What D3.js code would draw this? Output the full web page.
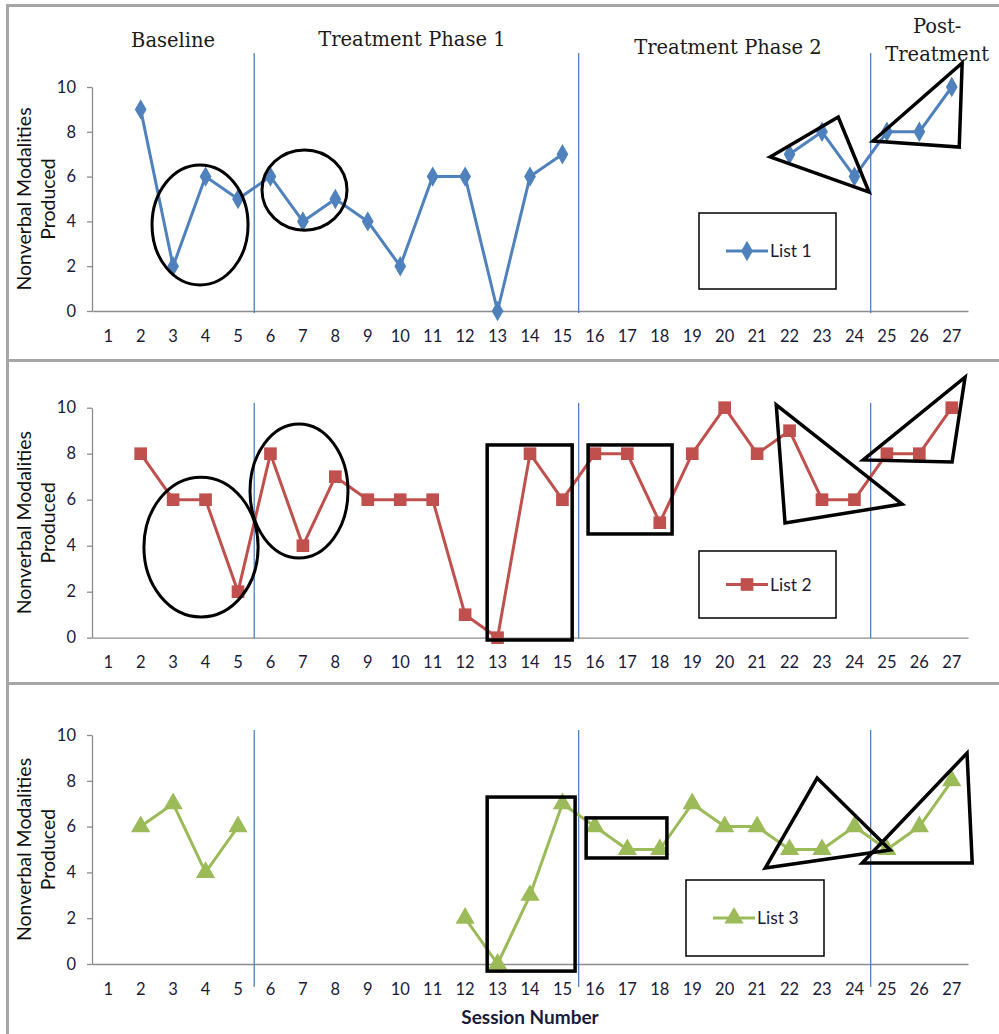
<!DOCTYPE html>
<html>
<head>
<meta charset="utf-8">
<script src="https://cdn.jsdelivr.net/npm/d3@7"></script>
<style>
  body { margin: 0; background: #fff; }
  svg { display: block; }
  .tick text { font-family: Lato, "Open Sans", sans-serif; font-size: 16.5px; fill: #1a1a3a; }
</style>
</head>
<body>
<svg id="chart" width="999" height="1034"></svg>
<script>
// ---- data ----
const sessions = [1, 2, 3, 4, 5, 6, 7, 8, 9, 10, 11, 12, 13, 14, 15, 16, 17, 18, 19, 20, 21, 22, 23, 24, 25, 26, 27];
const list1 = [null, 9, 2, 6, 5, 6, 4, 5, 4, 2, 6, 6, 0, 6, 7, null, null, null, null, null, null, 7, 8, 6, 8, 8, 10];
const list2 = [null, 8, 6, 6, 2, 8, 4, 7, 6, 6, 6, 1, 0, 8, 6, 8, 8, 5, 8, 10, 8, 9, 6, 6, 8, 8, 10];
const list3 = [null, 6, 7, 4, 6, null, null, null, null, null, null, 2, 0, 3, 7, 6, 5, 5, 7, 6, 6, 5, 5, 6, 5, 6, 8];
const seriesNames = ["List 1", "List 2", "List 3"];
const yTicks = [0, 2, 4, 6, 8, 10];
const phaseBreaks = [5, 15, 24];   // divider after these sessions
const phaseLabels = [
    { lines: ["Baseline"], s: 3.0, dy: [47] },
    { lines: ["Treatment Phase 1"], s: 10.36, dy: [46] },
    { lines: ["Treatment Phase 2"], s: 20.1, dy: [54] },
    { lines: ["Post-", "Treatment"], s: 26.55, dy: [33, 61] }
];

// hand-drawn annotation shapes, in session / value units
const ellipses = [
    [{ s: 3.83, v: 3.84, rs: 1.48, rv: 2.68 }, { s: 7.05, v: 5.4, rs: 1.31, rv: 1.79 }],
    [{ s: 3.86, v: 3.94, rs: 1.76, rv: 3.04 }, { s: 6.88, v: 6.38, rs: 1.51, rv: 2.91 }],
    []
];
const boxes = [
    [],
    [{ s0: 12.68, s1: 15.3, v0: -0.1, v1: 8.38 }, { s0: 15.79, s1: 18.38, v0: 4.51, v1: 8.38 }],
    [{ s0: 12.68, s1: 15.39, v0: -0.31, v1: 7.29 }, { s0: 15.73, s1: 18.22, v0: 4.63, v1: 6.38 }]
];
const triangles = [
    [[[21.4, 6.88], [23.5, 8.66], [24.45, 5.31]], [[24.57, 7.59], [27.32, 11.07], [27.23, 7.32]]],
    [[[21.59, 10.12], [25.47, 5.81], [21.86, 4.99]], [[24.27, 7.73], [27.41, 11.33], [27.01, 7.64]]],
    [[[21.25, 4.19], [22.85, 8.12], [25.1, 4.98]], [[24.24, 4.41], [27.47, 9.21], [27.63, 4.41]]]
];

// ---- layout ----
const colors = ["#4f81bd", "#c0504d", "#9bbb59"];
const symbols = [d3.symbolDiamond, d3.symbolSquare, d3.symbolTriangle];
const symbolSizes = [120, 160, 160];
const panels = [
    { data: list1, yBottom: 311, yTop: 87, divTop: 53, divBottom: 313, legend: [699, 213, 137, 76] },
    { data: list2, yBottom: 637.7, yTop: 407.7, divTop: 403, divBottom: 638, legend: [699, 551, 137, 67] },
    { data: list3, yBottom: 964, yTop: 735, divTop: 730, divBottom: 987, legend: [686, 880, 138, 76] }
];
const plotLeft = 92, plotRight = 968;

const svg = d3.select("#chart");

const x = d3.scaleBand().domain(sessions).range([plotLeft, plotRight]);
const xs = d3.scaleLinear().domain([0.5, 27.5]).range([plotLeft, plotRight]);

// frames
svg.append("line").attr("x1", 7.5).attr("x2", 7.5).attr("y1", 5).attr("y2", 1034)
    .attr("stroke", "#a6a6a6").attr("stroke-width", 3);
[5.5, 360.5, 683.5].forEach(yy => {
    svg.append("line").attr("x1", 6).attr("x2", 999).attr("y1", yy).attr("y2", yy)
        .attr("stroke", "#a6a6a6").attr("stroke-width", 3);
});

panels.forEach((p, i) => {
    const g = svg.append("g");
    const y = d3.scaleLinear().domain([0, 10]).range([p.yBottom, p.yTop]);

    // y axis
    const yAxis = g.append("g")
        .attr("transform", `translate(${plotLeft},0)`)
        .call(d3.axisLeft(y).tickValues(yTicks).tickSize(5).tickPadding(11).tickSizeOuter(0));
    yAxis.select(".domain").attr("stroke", "#8c8c8c").attr("stroke-width", 1.3);
    yAxis.selectAll(".tick line").attr("stroke", "#8c8c8c").attr("stroke-width", 1.3);

    // x axis
    const xAxis = g.append("g")
        .attr("transform", `translate(0,${p.yBottom})`)
        .call(d3.axisBottom(x).tickSize(0).tickPadding(19));
    xAxis.select(".domain").attr("stroke", "#8c8c8c").attr("stroke-width", 1.3);

    // axis title
    const tx = g.append("text")
        .attr("transform", `translate(25,${(p.yBottom + p.yTop) / 2}) rotate(-90)`)
        .attr("text-anchor", "middle")
        .style("font-family", "Lato, 'Open Sans', sans-serif")
        .style("font-size", "19.5px")
        .attr("fill", "#111");
    tx.append("tspan").attr("x", 0).attr("dy", 6).text("Nonverbal Modalities");
    tx.append("tspan").attr("x", 0).attr("dy", 24).text("Produced");

    // phase dividers
    phaseBreaks.forEach(b => {
        g.append("line")
            .attr("x1", xs(b + 0.5)).attr("x2", xs(b + 0.5))
            .attr("y1", p.divTop).attr("y2", p.divBottom)
            .attr("stroke", "#4f81bd").attr("stroke-width", 1.3);
    });

    // series line
    const pts = sessions.map((s, k) => ({ s, v: p.data[k] }));
    const line = d3.line()
        .defined(d => d.v != null)
        .x(d => x(d.s) + x.bandwidth() / 2)
        .y(d => y(d.v));
    g.append("path")
        .attr("d", line(pts))
        .attr("fill", "none")
        .attr("stroke", colors[i])
        .attr("stroke-width", 3)
        .attr("stroke-linejoin", "round");

    g.selectAll(".mark")
        .data(pts.filter(d => d.v != null))
        .enter()
        .append("path")
        .attr("class", "mark")
        .attr("transform", d => `translate(${x(d.s) + x.bandwidth() / 2},${y(d.v)})`)
        .attr("d", d3.symbol().type(symbols[i]).size(symbolSizes[i]))
        .attr("fill", colors[i]);

    // annotations
    ellipses[i].forEach(e => {
        g.append("ellipse")
            .attr("cx", xs(e.s)).attr("cy", y(e.v))
            .attr("rx", xs(e.s + e.rs) - xs(e.s))
            .attr("ry", y(e.v) - y(e.v + e.rv))
            .attr("fill", "none").attr("stroke", "#000").attr("stroke-width", 3);
    });
    boxes[i].forEach(b => {
        g.append("rect")
            .attr("x", xs(b.s0)).attr("y", y(b.v1))
            .attr("width", xs(b.s1) - xs(b.s0))
            .attr("height", y(b.v0) - y(b.v1))
            .attr("fill", "none").attr("stroke", "#000").attr("stroke-width", 3.5);
    });
    triangles[i].forEach(t => {
        g.append("path")
            .attr("d", "M" + t.map(q => `${xs(q[0])},${y(q[1])}`).join("L") + "Z")
            .attr("fill", "none").attr("stroke", "#000").attr("stroke-width", 3.5)
            .attr("stroke-linejoin", "miter");
    });

    // legend
    const [lx, ly, lw, lh] = p.legend;
    g.append("rect")
        .attr("x", lx).attr("y", ly).attr("width", lw).attr("height", lh)
        .attr("fill", "#fff").attr("stroke", "#000").attr("stroke-width", 1.5);
    const cy = ly + lh / 2;
    g.append("line")
        .attr("x1", lx + 27).attr("x2", lx + 69).attr("y1", cy).attr("y2", cy)
        .attr("stroke", colors[i]).attr("stroke-width", 3);
    g.append("path")
        .attr("transform", `translate(${lx + 48},${cy})`)
        .attr("d", d3.symbol().type(symbols[i]).size(symbolSizes[i]))
        .attr("fill", colors[i]);
    g.append("text")
        .attr("x", lx + 71).attr("y", cy + 6)
        .style("font-family", "Lato, 'Open Sans', sans-serif")
        .style("font-size", "17.5px")
        .attr("fill", "#1a1a3a")
        .text(seriesNames[i]);
});

// phase titles (top panel only)
phaseLabels.forEach(ph => {
    ph.lines.forEach((ln, k) => {
        svg.append("text")
            .attr("x", xs(ph.s)).attr("y", ph.dy[k])
            .attr("text-anchor", "middle")
            .style("font-family", "'DejaVu Serif', 'Liberation Serif', serif")
            .style("font-size", "19.5px")
            .attr("fill", "#1a1a1a")
            .text(ln);
    });
});

// x axis title
svg.append("text")
    .attr("x", 530).attr("y", 1024)
    .attr("text-anchor", "middle")
    .style("font-family", "Lato, 'Open Sans', sans-serif")
    .style("font-size", "19px")
    .style("font-weight", "bold")
    .attr("fill", "#1a1a3a")
    .text("Session Number");
</script>
</body>
</html>
